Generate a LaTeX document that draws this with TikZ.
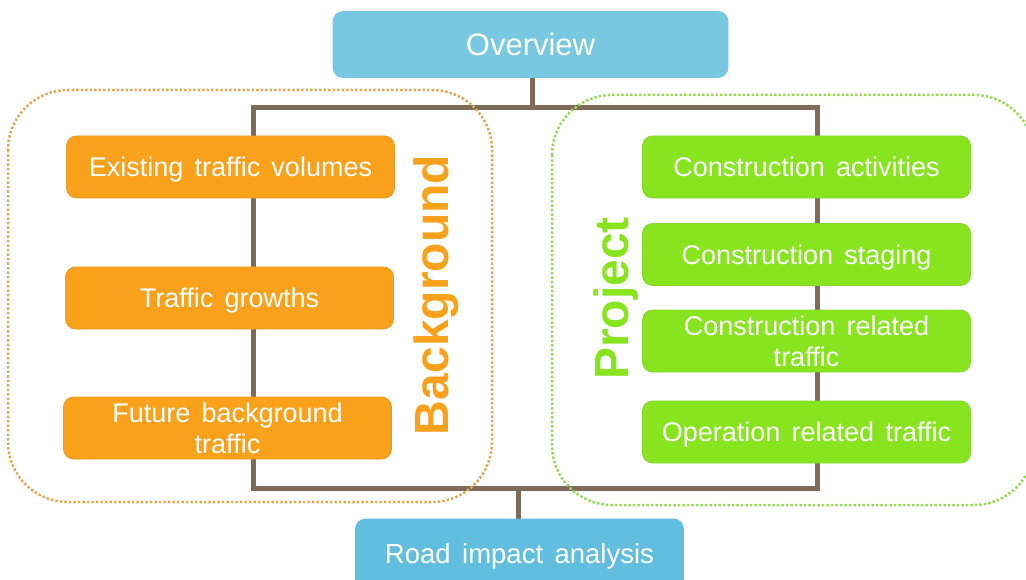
\documentclass[tikz,border=0pt]{standalone}
\usepackage{fontspec}
\setmainfont{Liberation Sans}[WordSpace=1.5]
\usetikzlibrary{backgrounds}
\definecolor{ovblue}{HTML}{78C8E2}
\definecolor{rdblue}{HTML}{62BEDF}
\definecolor{orng}{HTML}{F9A11B}
\definecolor{grn}{HTML}{87E41E}
\definecolor{conncol}{HTML}{7F6B58}
\definecolor{dotor}{HTML}{E2A955}
\definecolor{dotgr}{HTML}{98DA58}
\tikzset{
  boxbase/.style={rounded corners=10pt, text=white, align=center, inner sep=0pt,
    font=\fontsize{27}{31}\selectfont, line width=0.8pt, text depth=0pt},
  orbox/.style={boxbase, fill=orng, draw=orng!85!gray, minimum width=328pt, minimum height=62pt},
  grbox/.style={boxbase, fill=grn, draw=grn!85!gray, minimum width=328pt, minimum height=62pt},
  bluebox/.style={boxbase, minimum height=66pt},
  conn/.style={draw=conncol, line width=5pt},
  grpframe/.style={rounded corners=60pt, dotted, line width=2.5pt},
  grplabel/.style={rotate=90, anchor=base, font=\fontsize{48}{48}\selectfont\bfseries}
}
\begin{document}
\begin{tikzpicture}[x=1pt,y=-1pt]
\clip (0,0) rectangle (1026,580);
% nodes
\node[bluebox, fill=ovblue, draw=ovblue, minimum width=395pt, font=\fontsize{31}{36}\selectfont] (ov) at (530.5,44.5) {Overview};
\node[bluebox, fill=rdblue, draw=rdblue, minimum width=328pt, minimum height=70pt, font=\fontsize{27.5}{32}\selectfont] (road) at (519.5,554) {Road impact analysis};
\node[orbox] (e1) at (230.5,167) {Existing traffic volumes};
\node[orbox] (e2) at (229.5,298) {Traffic growths};
\node[orbox] (e3) at (227.5,428) {Future background\\traffic};
\node[grbox] (c1) at (806.5,167) {Construction activities};
\node[grbox] (c2) at (806.5,254.5) {Construction staging};
\node[grbox] (c3) at (806.5,341) {Construction related\\traffic};
\node[grbox] (c4) at (806.5,432) {Operation related traffic};
\node[grplabel, text=orng] (bg) at (448,295) {Background};
\node[grplabel, text=grn] (pj) at (628,298.5) {Project};
% group frames
\draw[grpframe, draw=dotor] (8,90) rectangle (492,502);
\draw[grpframe, draw=dotgr] (552,95) rectangle (1034,505);
% junction coordinates
\coordinate (tj) at (532,108);
\coordinate (tl) at (253,108);
\coordinate (tr) at (817,108);
\coordinate (bl) at (253,488);
\coordinate (br) at (817,488);
\coordinate (bj) at (518,488);
\begin{scope}[on background layer]
\draw[conn] (ov.south -| tj) -- (tj);
\draw[conn, line join=miter] (e1.north -| tl) -- (tl) -- (tr) -- (c1.north -| tr);
\draw[conn] (e1.south -| tl) -- (e2.north -| tl);
\draw[conn] (e2.south -| tl) -- (e3.north -| tl);
\draw[conn] (c1.south -| tr) -- (c2.north -| tr);
\draw[conn] (c2.south -| tr) -- (c3.north -| tr);
\draw[conn] (c3.south -| tr) -- (c4.north -| tr);
\draw[conn, line join=miter] (e3.south -| bl) -- (bl) -- (br) -- (c4.south -| br);
\draw[conn] (bj) -- (road.north -| bj);
\end{scope}
\end{tikzpicture}
\end{document}
